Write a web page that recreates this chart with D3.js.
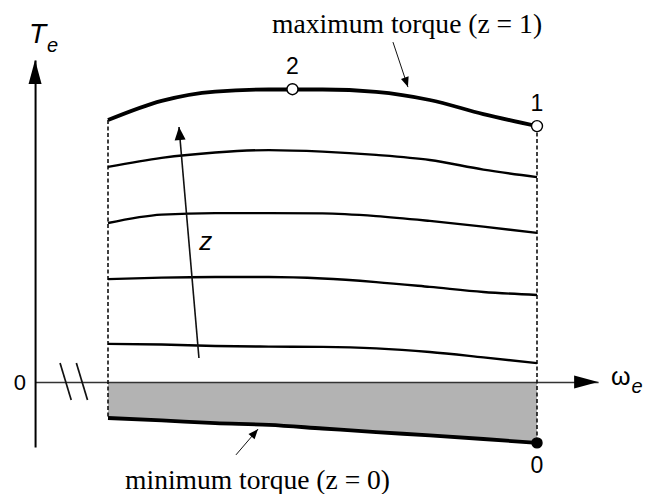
<!DOCTYPE html>
<html>
<head>
<meta charset="utf-8">
<script src="https://cdn.jsdelivr.net/npm/d3@7"></script>
<style>
	body { margin: 0; background: #fff; }
	svg { display: block; }
</style>
</head>
<body>
<div id="chart"></div>
<script>
// speed grid (arbitrary units) shared by every torque curve
var omega = [1, 1.5, 2, 2.5, 3, 3.5, 4, 4.5, 5];

// torque curves, top (z = 1) to bottom (z = 0)
var torqueMax = [8.73, 9.37, 9.68, 9.75, 9.75, 9.67, 9.40, 8.93, 8.53];
var torqueZ2  = [7.17, 7.47, 7.65, 7.73, 7.68, 7.57, 7.40, 7.08, 6.83];
var torqueZ3  = [5.30, 5.58, 5.63, 5.63, 5.62, 5.53, 5.37, 5.18, 4.97];
var torqueZ4  = [3.43, 3.48, 3.50, 3.50, 3.45, 3.33, 3.17, 3.00, 2.90];
var torqueZ5  = [1.27, 1.25, 1.20, 1.18, 1.17, 1.12, 1.00, 0.82, 0.63];
var torqueMin = [-1.20, -1.28, -1.37, -1.43, -1.55, -1.67, -1.78, -1.90, -2.03];

// marked operating points
var pointLabels = ['2', '1', '0'];
var pointOmega  = [2.72, 5, 5];
var pointTorque = [9.76, 8.53, -2.03];
var pointFilled = [false, false, true];

// axis extents and break marks
var omegaAxis = [0.32, 5.57];
var torqueAxis = [-2.17, 10.73];
var breakOmega = [0.605, 0.757];

(function ()	{
	'use strict';

	var width = 656,
			height = 494;

	var svg = d3.select('#chart').append('svg')
							.attr('width', width)
							.attr('height', height);

	var x = d3.scaleLinear().domain([1, 5]).range([108, 537]),
			y = d3.scaleLinear().domain([0, 10]).range([382, 82]);

	var sans = '"Liberation Sans", Arial, sans-serif',
			serif = '"Liberation Serif", "Times New Roman", serif';

	function series (values)	{
		return omega.map(function (w, i)	{
			return { w: w, t: values[i] };
		});
	};

	function arrowHead (x1, y1, x2, y2, len, half)	{
		var dx = x2 - x1,
				dy = y2 - y1,
				d = Math.sqrt(dx * dx + dy * dy),
				ux = dx / d,
				uy = dy / d,
				bx = x2 - ux * len,
				by = y2 - uy * len;

		svg.append('path')
			 .attr('d', 'M' + x2 + ',' + y2 +
			 	'L' + (bx - uy * half) + ',' + (by + ux * half) +
			 	'L' + (bx + uy * half) + ',' + (by - ux * half) + 'Z')
			 .attr('fill', '#000');
	};

	function arrow (w1, t1, w2, t2, stroke, len, half)	{
		svg.append('line')
			 .attr('x1', x(w1)).attr('y1', y(t1))
			 .attr('x2', x(w2)).attr('y2', y(t2))
			 .attr('stroke', '#111')
			 .attr('stroke-width', stroke);
		arrowHead(x(w1), y(t1), x(w2), y(t2), len, half);
	};

	// shaded region between zero torque and minimum torque
	var area = d3.area()
							 .x(function (d) { return x(d.w); })
							 .y0(y(0))
							 .y1(function (d) { return y(d.t); })
							 .curve(d3.curveMonotoneX);

	svg.append('path')
		 .datum(series(torqueMin))
		 .attr('d', area)
		 .attr('fill', '#b3b3b3');

	// axes
	var xAxisScale = x.copy().domain(omegaAxis).range(omegaAxis.map(x)),
			yAxisScale = y.copy().domain(torqueAxis).range(torqueAxis.map(y));

	var gx = svg.append('g')
							.attr('transform', 'translate(0,' + y(0) + ')')
							.call(d3.axisBottom(xAxisScale).tickValues([]).tickSizeOuter(0));
	gx.select('.domain').attr('stroke', '#333').attr('stroke-width', 1.3);

	var gy = svg.append('g')
							.attr('transform', 'translate(' + x(omegaAxis[0]) + ',0)')
							.call(d3.axisLeft(yAxisScale).tickValues([]).tickSizeOuter(0));
	gy.select('.domain').attr('stroke', '#000').attr('stroke-width', 2);

	arrowHead(x(omegaAxis[0]), y(0), x(omegaAxis[1]), y(0), 24, 6.5);
	arrowHead(x(omegaAxis[0]), y(0), x(omegaAxis[0]), y(torqueAxis[1]), 24, 6.5);

	// break marks on the speed axis
	breakOmega.forEach(function (b)	{
		svg.append('line')
			 .attr('x1', x(b - 0.052)).attr('y1', y(0.63))
			 .attr('x2', x(b + 0.052)).attr('y2', y(-0.6))
			 .attr('stroke', '#111')
			 .attr('stroke-width', 1.7);
	});

	// dashed speed limits
	[0, omega.length - 1].forEach(function (i)	{
		svg.append('line')
			 .attr('x1', x(omega[i])).attr('y1', y(torqueMax[i]))
			 .attr('x2', x(omega[i])).attr('y2', y(torqueMin[i]))
			 .attr('stroke', '#111')
			 .attr('stroke-width', 1.6)
			 .attr('stroke-dasharray', '4,2.5');
	});

	// torque curves
	var line = d3.line()
							 .x(function (d) { return x(d.w); })
							 .y(function (d) { return y(d.t); })
							 .curve(d3.curveMonotoneX);

	var curves = [torqueMax, torqueZ2, torqueZ3, torqueZ4, torqueZ5, torqueMin],
			widths = [3.8, 2.4, 2.4, 2.4, 2.4, 3.8];

	curves.forEach(function (c, i)	{
		svg.append('path')
			 .datum(series(c))
			 .attr('d', line)
			 .attr('fill', 'none')
			 .attr('stroke', '#000')
			 .attr('stroke-width', widths[i]);
	});

	// z direction arrow
	arrow(1.848, 0.8, 1.662, 8.5, 1.6, 13, 5.5);
	svg.append('text')
		 .attr('x', x(1.85)).attr('y', y(4.4))
		 .attr('font-family', sans)
		 .attr('font-style', 'italic')
		 .attr('font-size', 26)
		 .text('z');

	// operating points
	pointLabels.forEach(function (lab, i)	{
		var cx = x(pointOmega[i]),
				cy = y(pointTorque[i]);

		svg.append('circle')
			 .attr('cx', cx).attr('cy', cy)
			 .attr('r', pointFilled[i] ? 5 : 5.5)
			 .attr('fill', pointFilled[i] ? '#000' : '#fff')
			 .attr('stroke', '#000')
			 .attr('stroke-width', 1.4);

		svg.append('text')
			 .attr('x', cx)
			 .attr('y', pointFilled[i] ? cy + 30 : cy - 15)
			 .attr('text-anchor', 'middle')
			 .attr('font-family', sans)
			 .attr('font-size', 23)
			 .text(lab);
	});

	// annotations
	arrow(3.657, 11.33, 3.797, 9.83, 1, 10, 4);
	svg.append('text')
		 .attr('x', x(2.53)).attr('y', y(11.63))
		 .attr('font-family', serif)
		 .attr('font-size', 28)
		 .attr('textLength', 270)
		 .attr('lengthAdjust', 'spacingAndGlyphs')
		 .text('maximum torque (z = 1)');

	arrow(2.193, -2.43, 2.399, -1.57, 1, 10, 4);
	svg.append('text')
		 .attr('x', x(1.159)).attr('y', y(-3.57))
		 .attr('font-family', serif)
		 .attr('font-size', 28)
		 .attr('textLength', 265)
		 .attr('lengthAdjust', 'spacingAndGlyphs')
		 .text('minimum torque (z = 0)');

	// axis labels
	svg.append('text')
		 .attr('x', x(omegaAxis[0]) - 9).attr('y', y(0) + 8)
		 .attr('text-anchor', 'end')
		 .attr('font-family', sans)
		 .attr('font-size', 22)
		 .text('0');

	var te = svg.append('text')
							.attr('x', 29).attr('y', 43)
							.attr('font-family', sans)
							.attr('font-style', 'italic')
							.attr('font-size', 28);
	te.append('tspan').text('T');
	te.append('tspan').attr('dx', 1).attr('dy', 9).attr('font-size', 20).text('e');

	var we = svg.append('text')
							.attr('x', 611).attr('y', 385)
							.attr('font-family', sans)
							.attr('font-size', 25);
	we.append('tspan').text('ω');
	we.append('tspan').attr('dx', 1).attr('dy', 8).attr('font-size', 20)
		.attr('font-style', 'italic').text('e');
})();
</script>
</body>
</html>
